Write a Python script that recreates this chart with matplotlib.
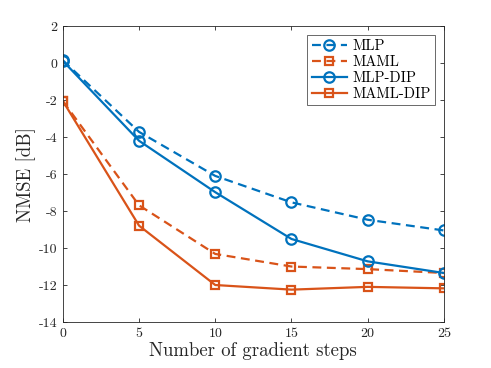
import matplotlib
matplotlib.use("Agg")
import matplotlib.pyplot as plt

steps = [0, 5, 10, 15, 20, 25]
mlp = [0.15, -3.72, -6.1, -7.53, -8.47, -9.05]
maml = [-2.05, -7.69, -10.32, -11.0, -11.14, -11.35]
mlp_dip = [0.12, -4.2, -6.98, -9.51, -10.72, -11.35]
maml_dip = [-2.05, -8.79, -12.0, -12.25, -12.1, -12.18]

xticks = [0, 5, 10, 15, 20, 25]
yticks = [2, 0, -2, -4, -6, -8, -10, -12, -14]

plt.rcParams['font.family'] = ['cmr10', 'DejaVu Serif']
plt.rcParams['mathtext.fontset'] = 'cm'
plt.rcParams['axes.unicode_minus'] = False
plt.rcParams['axes.formatter.use_mathtext'] = True

blue = '#0072BD'
orange = '#D95319'
axc = '#262626'

fig = plt.figure(figsize=(4.91, 3.68), dpi=100)
ax = fig.add_axes([0.128, 0.125, 0.776, 0.804])

ax.plot(steps, mlp, color=blue, ls=(0, (4, 2.5)), lw=1.6, marker='o', ms=7.5,
        mfc='none', mew=1.6, label='MLP')
ax.plot(steps, maml, color=orange, ls=(0, (4, 2.5)), lw=1.6, marker='s', ms=6,
        mfc='none', mew=1.6, label='MAML')
ax.plot(steps, mlp_dip, color=blue, ls='-', lw=1.6, marker='o', ms=7.5,
        mfc='none', mew=1.6, label='MLP-DIP')
ax.plot(steps, maml_dip, color=orange, ls='-', lw=1.6, marker='s', ms=6,
        mfc='none', mew=1.6, label='MAML-DIP')

ax.set_xlim(0, 25)
ax.set_ylim(-14, 2)
ax.set_xticks(xticks)
ax.set_yticks(yticks)
ax.set_xticklabels([str(v) for v in xticks])
ax.set_yticklabels([str(v) for v in yticks])
ax.tick_params(direction='in', top=True, right=True, length=3, width=0.6,
               labelsize=10, colors=axc, pad=4)
for s in ax.spines.values():
    s.set_color(axc)
    s.set_linewidth(0.6)

ax.set_xlabel('Number of gradient steps', fontsize=13.5, color=axc, labelpad=2)
ax.set_ylabel('NMSE [dB]', fontsize=13.5, color=axc, labelpad=2)

leg = ax.legend(loc='upper right', fontsize=10.5, frameon=True, fancybox=False,
                handlelength=2.4, handletextpad=0.4, borderpad=0.3,
                labelspacing=0.15, borderaxespad=0.6)
leg.get_frame().set_edgecolor(axc)
leg.get_frame().set_linewidth(0.6)

fig.savefig('out.png', dpi=100)
